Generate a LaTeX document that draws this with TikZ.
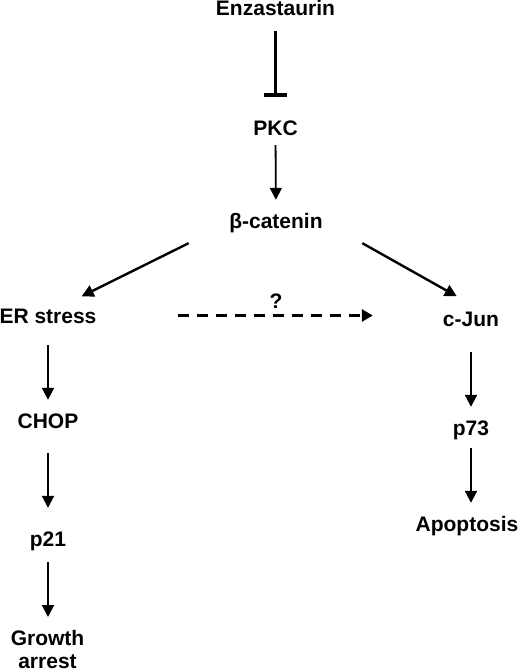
\documentclass[tikz,border=0pt]{standalone}
\usepackage{fontspec}
\setmainfont{Liberation Sans}
\usetikzlibrary{arrows.meta,calc}
\tikzset{
  lbl/.style={font=\fontsize{21}{24}\selectfont\bfseries, inner sep=0pt, anchor=base, text height=15pt, text depth=0pt},
  arr/.style={line width=2.1pt, -{Triangle[length=12pt,width=12pt]}},
  darr/.style={line width=2.8pt, -{Triangle[length=11pt,width=12pt]}, dash pattern=on 11pt off 8pt},
  inh/.style={line width=3pt, -{Bar[width=23pt,line width'=4pt]}}
}
\begin{document}
\begin{tikzpicture}[x=1pt,y=1pt]
\useasboundingbox (0,0) rectangle (520,-670);
% nodes (positions: x, -baseline)
\node[lbl] (enz)  at (275.5,-15)  {Enzastaurin};
\node[lbl] (pkc)  at (275.5,-135) {PKC};
\node[lbl] (bcat) at (276,-228)   {β-catenin};
\node[lbl] (er)   at (48,-323)    {ER stress};
\node[lbl] (cjun) at (471,-326)   {c-Jun};
\node[lbl] (q)    at (276,-308)   {?};
\node[lbl] (chop) at (48,-428)    {CHOP};
\node[lbl] (p21)  at (48,-546)    {p21};
\node[font=\fontsize{21}{23}\selectfont\bfseries, inner sep=0pt, anchor=north, align=center] (grow) at (47.5,-630) {Growth\\arrest};
\node[lbl] (p73)  at (471,-435)   {p73};
\node[lbl] (apop) at (467,-531)   {Apoptosis};
% connectors
\draw[inh, shorten <=16pt, shorten >=23pt] (enz.south) -- (pkc.north);
\draw[arr, line width=1.8pt, shorten <=10pt, shorten >=13pt] (pkc.south) -- (bcat.north);
\draw[arr, line width=2.4pt] ($(bcat.south west)+(-40.5,-15)$) -- ($(er.north east)+(-15,11.5)$);
\draw[arr, line width=2.4pt] ($(bcat.south east)+(39.5,-15)$) -- ($(cjun.north west)+(14,14.5)$);
\draw[darr] ($(er.east)+(81,0)$) -- ($(er.east -| cjun.west)+(-70,0)$);
\draw[arr, shorten <=22pt, shorten >=13pt] (er.south) -- (chop.north);
\draw[arr, shorten <=25pt, shorten >=23pt] (chop.south) -- (p21.north);
\draw[arr, shorten <=16pt, shorten >=13pt] (p21.south) -- (p21.south |- grow.north);
\draw[arr, shorten <=26pt, shorten >=13pt] (cjun.south) -- (p73.north);
\draw[arr, shorten <=13pt, shorten >=13pt] (p73.south) -- (p73.south |- apop.north);
\end{tikzpicture}
\end{document}
